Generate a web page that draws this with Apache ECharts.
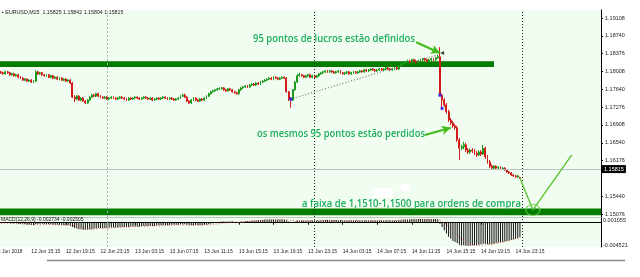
<!DOCTYPE html>
<html><head><meta charset="utf-8">
<script src="https://cdn.jsdelivr.net/npm/echarts@6/dist/echarts.min.js"></script>
<style>html,body{margin:0;padding:0;background:#fff;}#c{width:640px;height:277px;}</style>
</head><body><div id="c"></div>
<script>
// ---------- data ----------
const startTimeUTC = Date.UTC(2018, 5, 12, 11, 45); // first M15 bar
const barCount = 278;                                 // bars incl. empty right margin
const xTickIdx  = [14, 30, 46, 62, 78, 94, 110, 126, 142, 158, 174, 190, 206, 222, 238];
const xTickText = ['12 Jun 15:15','12 Jun 19:15','12 Jun 23:15','13 Jun 03:15','13 Jun 07:15','13 Jun 11:15',
  '13 Jun 15:15','13 Jun 19:15','13 Jun 23:15','14 Jun 03:15','14 Jun 07:15','14 Jun 11:15',
  '14 Jun 15:15','14 Jun 19:15','14 Jun 23:15'];
const firstDateLabel = '12 Jun 2018';
const priceTicks = [1.19108,1.18740,1.18376,1.18008,1.17640,1.17276,1.16908,1.16540,1.16176,1.15440,1.15076];
const macdTicks = [0.001055, 0, -0.004521];
const daySeparators = [49, 145, 241];
const lastPrice = 1.15815;
const header = '\u25AA EURUSD,M15  1.15825 1.15842 1.15804 1.15815';
const macdHeader = 'MACD(12,26,9) -0.002734 -0.002505';

// candles: [open, close, low, high]
const candles = [
[1.1800,1.1798,1.1796,1.1802],[1.1798,1.1796,1.1794,1.1800],[1.1796,1.1800,1.1794,1.1802],[1.1800,1.1798,1.1796,1.1802],
[1.1798,1.1794,1.1792,1.1800],[1.1794,1.1796,1.1792,1.1798],[1.1796,1.1792,1.1790,1.1798],[1.1792,1.1794,1.1790,1.1796],
[1.1794,1.1789,1.1787,1.1796],[1.1789,1.1787,1.1785,1.1791],[1.1787,1.1783,1.1781,1.1789],[1.1783,1.1785,1.1781,1.1787],
[1.1785,1.1781,1.1779,1.1787],[1.1781,1.1783,1.1779,1.1785],[1.1783,1.1779,1.1777,1.1785],[1.1779,1.1781,1.1777,1.1783],
[1.1781,1.1800,1.1779,1.1803],[1.1800,1.1796,1.1794,1.1802],[1.1796,1.1798,1.1794,1.1800],[1.1798,1.1794,1.1792,1.1800],
[1.1794,1.1792,1.1790,1.1796],[1.1792,1.1794,1.1790,1.1796],[1.1794,1.1789,1.1787,1.1796],[1.1789,1.1792,1.1787,1.1794],
[1.1792,1.1787,1.1785,1.1794],[1.1787,1.1789,1.1785,1.1791],[1.1789,1.1785,1.1783,1.1791],[1.1785,1.1787,1.1783,1.1789],
[1.1787,1.1783,1.1781,1.1789],[1.1783,1.1785,1.1781,1.1787],[1.1785,1.1781,1.1779,1.1787],[1.1781,1.1783,1.1779,1.1785],
[1.1783,1.1777,1.1775,1.1785],[1.1777,1.1748,1.1746,1.1779],[1.1748,1.1744,1.1738,1.1752],[1.1744,1.1750,1.1742,1.1752],
[1.1750,1.1742,1.1740,1.1752],[1.1742,1.1746,1.1740,1.1748],[1.1746,1.1740,1.1738,1.1748],[1.1740,1.1736,1.1734,1.1742],
[1.1736,1.1742,1.1734,1.1744],[1.1742,1.1748,1.1740,1.1750],[1.1748,1.1752,1.1746,1.1755],[1.1752,1.1750,1.1748,1.1755],
[1.1750,1.1755,1.1748,1.1757],[1.1755,1.1750,1.1748,1.1757],[1.1750,1.1748,1.1746,1.1752],[1.1748,1.1746,1.1744,1.1750],
[1.1746,1.1748,1.1744,1.1750],[1.1748,1.1744,1.1742,1.1750],[1.1744,1.1746,1.1742,1.1748],[1.1746,1.1748,1.1744,1.1750],
[1.1748,1.1746,1.1744,1.1750],[1.1746,1.1744,1.1742,1.1748],[1.1744,1.1746,1.1742,1.1748],[1.1746,1.1748,1.1744,1.1750],
[1.1748,1.1746,1.1744,1.1750],[1.1746,1.1744,1.1742,1.1748],[1.1744,1.1742,1.1740,1.1746],[1.1742,1.1746,1.1740,1.1748],
[1.1746,1.1744,1.1742,1.1748],[1.1744,1.1746,1.1742,1.1748],[1.1746,1.1748,1.1744,1.1750],[1.1748,1.1746,1.1744,1.1750],
[1.1746,1.1744,1.1742,1.1748],[1.1744,1.1746,1.1742,1.1748],[1.1746,1.1748,1.1744,1.1750],[1.1748,1.1746,1.1744,1.1750],
[1.1746,1.1744,1.1742,1.1748],[1.1744,1.1746,1.1742,1.1748],[1.1746,1.1742,1.1740,1.1748],[1.1742,1.1744,1.1740,1.1746],
[1.1744,1.1746,1.1742,1.1748],[1.1746,1.1744,1.1742,1.1748],[1.1744,1.1746,1.1742,1.1748],[1.1746,1.1748,1.1744,1.1750],
[1.1748,1.1746,1.1744,1.1750],[1.1746,1.1744,1.1742,1.1748],[1.1744,1.1746,1.1742,1.1748],[1.1746,1.1744,1.1742,1.1748],
[1.1744,1.1742,1.1740,1.1746],[1.1742,1.1744,1.1740,1.1746],[1.1744,1.1746,1.1742,1.1748],[1.1746,1.1750,1.1744,1.1752],
[1.1750,1.1752,1.1748,1.1755],[1.1752,1.1748,1.1746,1.1755],[1.1748,1.1740,1.1738,1.1750],[1.1740,1.1736,1.1734,1.1742],
[1.1736,1.1742,1.1734,1.1744],[1.1742,1.1746,1.1740,1.1748],[1.1746,1.1742,1.1740,1.1748],[1.1742,1.1740,1.1738,1.1744],
[1.1740,1.1744,1.1738,1.1746],[1.1744,1.1742,1.1740,1.1746],[1.1742,1.1746,1.1740,1.1748],[1.1746,1.1750,1.1744,1.1752],
[1.1750,1.1755,1.1748,1.1757],[1.1755,1.1759,1.1753,1.1761],[1.1759,1.1761,1.1757,1.1763],[1.1761,1.1763,1.1759,1.1765],
[1.1763,1.1765,1.1761,1.1767],[1.1765,1.1766,1.1763,1.1768],[1.1766,1.1767,1.1763,1.1769],[1.1767,1.1763,1.1761,1.1769],
[1.1763,1.1761,1.1759,1.1765],[1.1761,1.1765,1.1759,1.1767],[1.1765,1.1763,1.1761,1.1767],[1.1763,1.1759,1.1757,1.1765],
[1.1759,1.1757,1.1755,1.1761],[1.1757,1.1755,1.1753,1.1759],[1.1755,1.1763,1.1753,1.1765],[1.1763,1.1767,1.1761,1.1769],
[1.1767,1.1769,1.1765,1.1771],[1.1769,1.1771,1.1767,1.1773],[1.1771,1.1769,1.1767,1.1773],[1.1769,1.1773,1.1767,1.1775],
[1.1773,1.1775,1.1771,1.1777],[1.1775,1.1773,1.1771,1.1777],[1.1773,1.1777,1.1771,1.1779],[1.1777,1.1775,1.1773,1.1779],
[1.1775,1.1779,1.1773,1.1781],[1.1779,1.1781,1.1777,1.1783],[1.1781,1.1783,1.1779,1.1785],[1.1783,1.1785,1.1781,1.1787],
[1.1785,1.1787,1.1783,1.1789],[1.1787,1.1785,1.1783,1.1789],[1.1785,1.1789,1.1783,1.1791],[1.1789,1.1787,1.1785,1.1791],
[1.1787,1.1785,1.1783,1.1789],[1.1785,1.1787,1.1783,1.1789],[1.1787,1.1789,1.1785,1.1791],[1.1789,1.1787,1.1785,1.1791],
[1.1787,1.1759,1.1757,1.1789],[1.1759,1.1744,1.1740,1.1761],[1.1744,1.1742,1.1726,1.1748],[1.1742,1.1763,1.1740,1.1765],
[1.1763,1.1779,1.1761,1.1781],[1.1779,1.1792,1.1777,1.1796],[1.1792,1.1794,1.1790,1.1798],[1.1794,1.1792,1.1790,1.1796],
[1.1792,1.1789,1.1787,1.1794],[1.1789,1.1792,1.1787,1.1794],[1.1792,1.1794,1.1790,1.1796],[1.1794,1.1789,1.1787,1.1796],
[1.1789,1.1792,1.1787,1.1794],[1.1792,1.1789,1.1787,1.1794],[1.1789,1.1792,1.1787,1.1794],[1.1792,1.1796,1.1790,1.1798],
[1.1796,1.1798,1.1794,1.1800],[1.1798,1.1800,1.1796,1.1802],[1.1800,1.1802,1.1798,1.1804],[1.1802,1.1800,1.1798,1.1804],
[1.1800,1.1802,1.1798,1.1804],[1.1802,1.1800,1.1798,1.1804],[1.1800,1.1798,1.1796,1.1802],[1.1798,1.1800,1.1796,1.1802],
[1.1800,1.1802,1.1798,1.1804],[1.1802,1.1798,1.1796,1.1804],[1.1798,1.1796,1.1794,1.1800],[1.1796,1.1798,1.1794,1.1800],
[1.1798,1.1800,1.1796,1.1802],[1.1800,1.1796,1.1794,1.1802],[1.1796,1.1798,1.1794,1.1800],[1.1798,1.1800,1.1796,1.1802],
[1.1800,1.1798,1.1796,1.1802],[1.1798,1.1800,1.1796,1.1802],[1.1800,1.1802,1.1798,1.1804],[1.1802,1.1800,1.1798,1.1804],
[1.1800,1.1804,1.1798,1.1806],[1.1804,1.1802,1.1800,1.1806],[1.1802,1.1804,1.1800,1.1806],[1.1804,1.1806,1.1802,1.1808],
[1.1806,1.1804,1.1802,1.1808],[1.1804,1.1802,1.1800,1.1806],[1.1802,1.1804,1.1800,1.1806],[1.1804,1.1806,1.1802,1.1808],
[1.1806,1.1804,1.1802,1.1808],[1.1804,1.1806,1.1802,1.1808],[1.1806,1.1808,1.1804,1.1810],[1.1808,1.1806,1.1804,1.1810],
[1.1806,1.1804,1.1802,1.1808],[1.1804,1.1806,1.1802,1.1808],[1.1806,1.1808,1.1804,1.1810],[1.1808,1.1806,1.1804,1.1810],
[1.1806,1.1812,1.1804,1.1814],[1.1812,1.1816,1.1810,1.1818],[1.1816,1.1818,1.1814,1.1820],[1.1818,1.1820,1.1816,1.1822],
[1.1820,1.1822,1.1818,1.1825],[1.1822,1.1820,1.1818,1.1825],[1.1820,1.1825,1.1818,1.1827],[1.1825,1.1822,1.1820,1.1827],
[1.1822,1.1820,1.1818,1.1825],[1.1820,1.1822,1.1818,1.1825],[1.1822,1.1825,1.1820,1.1827],[1.1825,1.1827,1.1822,1.1829],
[1.1827,1.1825,1.1822,1.1829],[1.1825,1.1822,1.1820,1.1827],[1.1822,1.1825,1.1820,1.1827],[1.1825,1.1827,1.1822,1.1829],
[1.1827,1.1825,1.1822,1.1829],[1.1825,1.1829,1.1822,1.1831],[1.1829,1.1831,1.1827,1.1835],[1.1831,1.1752,1.1750,1.1851],
[1.1752,1.1742,1.1722,1.1755],[1.1742,1.1732,1.1728,1.1746],[1.1732,1.1718,1.1714,1.1736],[1.1718,1.1701,1.1697,1.1722],
[1.1701,1.1695,1.1691,1.1705],[1.1695,1.1689,1.1685,1.1699],[1.1689,1.1685,1.1681,1.1693],[1.1685,1.1660,1.1656,1.1689],
[1.1660,1.1643,1.1619,1.1664],[1.1643,1.1646,1.1639,1.1650],[1.1646,1.1650,1.1641,1.1656],[1.1650,1.1639,1.1635,1.1654],
[1.1639,1.1635,1.1631,1.1643],[1.1635,1.1639,1.1631,1.1643],[1.1639,1.1637,1.1633,1.1643],[1.1637,1.1633,1.1629,1.1641],
[1.1633,1.1629,1.1625,1.1637],[1.1629,1.1635,1.1627,1.1639],[1.1635,1.1631,1.1627,1.1639],[1.1631,1.1643,1.1629,1.1650],
[1.1643,1.1625,1.1621,1.1646],[1.1625,1.1615,1.1611,1.1629],[1.1615,1.1606,1.1602,1.1619],[1.1606,1.1602,1.1598,1.1610],
[1.1602,1.1606,1.1600,1.1608],[1.1606,1.1602,1.1600,1.1608],[1.1602,1.1604,1.1600,1.1606],[1.1604,1.1600,1.1598,1.1606],
[1.1600,1.1602,1.1598,1.1604],[1.1602,1.1598,1.1596,1.1604],[1.1598,1.1594,1.1592,1.1600],[1.1594,1.1592,1.1590,1.1596],
[1.1592,1.1588,1.1586,1.1594],[1.1588,1.1586,1.1584,1.1590],[1.1586,1.1584,1.1582,1.1588],[1.1584,1.1586,1.1582,1.1588],
[1.15825,1.15815,1.15804,1.15842]
];

const macdMain = [
0.0001,0.0001,0.0001,0.0000,0.0000,-0.0001,-0.0001,-0.0001,-0.0002,-0.0002,-0.0003,-0.0003,-0.0004,-0.0004,-0.0004,-0.0005,
-0.0003,-0.0003,-0.0002,-0.0002,-0.0003,-0.0003,-0.0003,-0.0003,-0.0004,-0.0004,-0.0004,-0.0004,-0.0005,-0.0005,-0.0005,-0.0005,-0.0006,
-0.0008,-0.0010,-0.0011,-0.0012,-0.0012,-0.0013,-0.0013,-0.0013,-0.0012,-0.0012,-0.0011,-0.0011,-0.0010,-0.0010,
-0.0010,-0.0010,-0.0010,-0.0009,-0.0009,-0.0009,-0.0009,-0.0009,-0.0008,-0.0008,-0.0008,-0.0008,-0.0008,-0.0007,-0.0007,-0.0007,
-0.0007,-0.0007,-0.0006,-0.0006,-0.0006,-0.0006,-0.0006,-0.0006,-0.0006,-0.0005,-0.0005,-0.0005,-0.0005,-0.0005,-0.0005,-0.0004,
-0.0004,-0.0004,-0.0004,-0.0004,-0.0003,-0.0003,-0.0003,-0.0004,-0.0005,-0.0005,-0.0005,-0.0005,-0.0005,-0.0005,-0.0005,-0.0004,-0.0004,
-0.0003,-0.0002,-0.0001,0.0000,0.0001,0.0001,0.0002,0.0002,0.0002,0.0002,0.0002,0.0002,0.0001,0.0001,0.0001,0.0002,0.0002,0.0003,
0.0003,0.0003,0.0004,0.0004,0.0004,0.0005,0.0005,0.0005,0.0006,0.0006,0.0006,0.0006,0.0006,0.0006,0.0006,0.0006,0.0006,0.0006,
0.0004,0.0002,0.0000,0.0001,0.0002,0.0004,
0.0004,0.0004,0.0004,0.0004,0.0004,0.0004,0.0004,0.0004,0.0004,0.0004,
0.0004,0.0005,0.0005,0.0005,0.0005,0.0005,0.0005,0.0005,0.0005,0.0005,
0.0004,0.0004,0.0004,0.0004,0.0004,0.0004,0.0004,0.0004,0.0004,0.0004,
0.0004,0.0004,0.0004,0.0004,0.0004,0.0004,0.0004,0.0004,0.0004,0.0004,
0.0004,0.0004,0.0004,0.0004,0.0004,0.0004,0.0005,0.0005,0.0006,0.0006,
0.0006,0.0006,0.0007,0.0007,0.0007,0.0007,0.0007,0.0007,0.0007,0.0007,
0.0007,0.0007,0.0007,0.0007,0.0007,
-0.0002,-0.0008,-0.0014,-0.0020,-0.0026,-0.0030,-0.0034,-0.0036,-0.0038,-0.0041,
-0.0042,-0.0042,-0.0043,-0.0043,-0.0043,-0.0042,-0.0042,-0.0042,-0.0041,-0.0040,
-0.0039,-0.0039,-0.0040,-0.0040,-0.0040,-0.0039,-0.0038,-0.0037,-0.0037,-0.0036,
-0.0035,-0.0034,-0.0033,-0.0032,-0.0031,-0.0030,-0.0029,-0.0027
];
const macdSignal = [
-0.0001,-0.0001,-0.0001,-0.0001,-0.0001,-0.0002,-0.0002,-0.0002,-0.0002,-0.0002,-0.0002,-0.0002,-0.0002,-0.0002,-0.0002,
-0.0003,-0.0003,-0.0003,-0.0003,-0.0003,-0.0003,-0.0003,-0.0003,-0.0003,-0.0003,-0.0004,-0.0004,-0.0004,-0.0004,-0.0004,-0.0004,-0.0004,-0.0004,
-0.0005,-0.0006,-0.0007,-0.0008,-0.0009,-0.0010,-0.0011,-0.0011,-0.0012,-0.0012,
-0.0012,-0.0012,-0.0011,-0.0011,-0.0011,-0.0010,-0.0010,-0.0010,-0.0010,-0.0009,
-0.0009,-0.0009,-0.0009,-0.0008,-0.0008,-0.0008,-0.0008,-0.0008,-0.0007,-0.0007,
-0.0007,-0.0007,-0.0007,-0.0007,-0.0006,-0.0006,-0.0006,-0.0006,-0.0006,-0.0006,
-0.0006,-0.0005,-0.0005,-0.0005,-0.0005,-0.0005,-0.0005,-0.0005,-0.0004,-0.0004,
-0.0004,-0.0004,-0.0004,-0.0004,-0.0004,-0.0004,-0.0004,-0.0004,-0.0004,-0.0004,
-0.0004,-0.0004,-0.0004,
-0.0004,-0.0004,-0.0003,-0.0003,-0.0002,-0.0002,-0.0001,-0.0001,0.0000,0.0000,
0.0001,0.0001,0.0001,0.0001,0.0001,0.0001,0.0001,0.0002,0.0002,0.0002,
0.0002,0.0003,0.0003,0.0003,0.0003,0.0004,0.0004,0.0004,0.0005,0.0005,
0.0005,0.0005,0.0005,0.0005,0.0006,0.0006,
0.0005,0.0005,0.0004,0.0004,0.0003,0.0003,
0.0003,0.0003,0.0003,0.0003,0.0003,
0.0004,0.0004,0.0004,0.0004,0.0004,0.0004,0.0004,0.0004,0.0004,0.0004,
0.0004,0.0004,0.0004,0.0004,0.0004,0.0004,0.0004,0.0004,0.0004,0.0004,
0.0004,0.0004,0.0004,0.0004,0.0004,0.0004,0.0004,0.0004,0.0004,0.0004,
0.0004,0.0004,0.0004,0.0004,0.0004,0.0004,0.0004,0.0004,0.0004,0.0004,0.0004,
0.0005,0.0005,0.0005,0.0005,0.0005,0.0005,0.0005,0.0005,0.0005,0.0005,
0.0005,0.0005,0.0005,0.0005,0.0005,0.0005,0.0005,0.0005,0.0005,
0.0004,0.0002,0.0000,-0.0003,-0.0007,-0.0011,-0.0015,-0.0019,-0.0023,-0.0027,
-0.0030,-0.0033,-0.0036,-0.0038,-0.0040,-0.0041,-0.0042,-0.0042,-0.0042,-0.0042,
-0.0041,-0.0041,-0.0040,-0.0040,-0.0040,-0.0039,-0.0039,-0.0038,-0.0037,-0.0036,
-0.0035,-0.0034,-0.0033,-0.0032,-0.0031,-0.0030,-0.0029,-0.0028
];

// drawn objects, in [bar index, price]
const resistanceZone = [1.1822, 1.1810];     // top / bottom price
const resistanceZoneEnd = 228;                // bar index where it stops
const buyZone = [1.1519, 1.1505];
const trendDots = [[134, 1.1744], [202, 1.1835]];
const scenario = [[240, 1.15815], [246, 1.1516], [264, 1.1629]];
const targetCircle = [246, 1.1516];
const tradeMarks = [[134, 1.1744], [203, 1.1752], [204, 1.1725]];
const closeMark = [[204, 1.1839]];
const arrowProfit = [[192, 1.1861], [203, 1.1839]];
const arrowLoss = [[196, 1.1670], [208, 1.1685]];
const notes = [
  {text: '95 pontos de lucros estão definidos', x: 253, y: 39, w: 162},
  {text: 'os mesmos 95 pontos estão perdidos', x: 257, y: 134, w: 168},
  {text: 'a faixa de 1,1510-1,1500 para ordens de compra', x: 302, y: 204, w: 219}
];

// ---------- chart ----------
const categories = [];
const mon = ['Jan','Feb','Mar','Apr','May','Jun','Jul','Aug','Sep','Oct','Nov','Dec'];
for (let i = 0; i < barCount; i++) {
  const d = new Date(startTimeUTC + i * 900000);
  const p = n => (n < 10 ? '0' : '') + n;
  categories.push(d.getUTCDate() + ' ' + mon[d.getUTCMonth()] + ' ' + p(d.getUTCHours()) + ':' + p(d.getUTCMinutes()));
}
const tickSet = new Set(xTickIdx);
const bg = '#f0fdf0';
const up = '#1c9a1c', down = '#d21c1c';
const annGreen = '#1eae5e';
const noteFont = '600 11px "Open Sans", "Noto Sans", sans-serif';
const mctx = document.createElement('canvas').getContext('2d');
mctx.font = noteFont;
const axisFont = 'Liberation Sans, Arial, sans-serif';

const chart = echarts.init(document.getElementById('c'), null, {renderer: 'canvas'});
const option = {
  animation: false,
  backgroundColor: '#ffffff',
  grid: [
    {left: 0, right: 39, top: 10, height: 207, show: true, backgroundColor: bg, borderWidth: 0},
    {left: 0, right: 39, top: 217, height: 30, show: true, backgroundColor: bg, borderWidth: 0}
  ],
  xAxis: [
    {type: 'category', gridIndex: 0, data: categories,
     axisLine: {show: true, lineStyle: {color: '#b9c9b9', width: 1}}, axisTick: {show: false}, axisLabel: {show: false}, splitLine: {show: false}},
    {type: 'category', gridIndex: 1, data: categories,
     axisLine: {show: true, lineStyle: {color: '#000', width: 1}},
     axisTick: {show: true, alignWithLabel: true, length: 2, interval: i => tickSet.has(i), lineStyle: {color: '#000'}},
     axisLabel: {show: true, interval: i => tickSet.has(i), align: 'left', margin: 2, fontSize: 5,
       fontFamily: axisFont, color: '#222',
       formatter: (v, i) => { const k = xTickIdx.indexOf(i); return k >= 0 ? xTickText[k] : ''; }},
     splitLine: {show: false}}
  ],
  yAxis: [
    {type: 'value', gridIndex: 0, position: 'right', min: 1.15014, max: 1.19273, scale: true,
     axisLine: {show: true, lineStyle: {color: '#000'}},
     axisTick: {show: true, length: 2, customValues: priceTicks, lineStyle: {color: '#000'}},
     axisLabel: {show: true, customValues: priceTicks, margin: 4, fontSize: 5.5, color: '#222', hideOverlap: false,
       fontFamily: axisFont, formatter: v => v.toFixed(5)},
     splitLine: {show: false}},
    {type: 'value', gridIndex: 1, position: 'right', min: -0.004521, max: 0.001055,
     axisLine: {show: true, lineStyle: {color: '#000'}},
     axisTick: {show: false},
     axisLabel: {show: true, customValues: macdTicks, margin: 2, fontSize: 5.5, color: '#222',
       hideOverlap: false, showMinLabel: true, showMaxLabel: true,
       fontFamily: axisFont,
       formatter: v => v > 0 ? '{t|' + v.toFixed(6) + '}' : (v < 0 ? '{b|' + v.toFixed(6) + '}' : '0.00'),
       rich: {t: {fontSize: 5.5, fontFamily: axisFont, color: '#222', padding: [6, 0, 0, 0]},
              b: {fontSize: 5.5, fontFamily: axisFont, color: '#222', padding: [0, 0, 4, 0]}}},
     splitLine: {show: false}}
  ],
  series: [
    {type: 'candlestick', name: 'EURUSD', xAxisIndex: 0, yAxisIndex: 0, data: candles, z: 3,
     barWidth: 1.4,
     itemStyle: {color: up, color0: down, borderColor: up, borderColor0: down, borderWidth: 1},
     markArea: {silent: true, label: {show: false}, itemStyle: {color: '#007c00'},
       data: [
         [{yAxis: resistanceZone[0]}, {xAxis: resistanceZoneEnd, yAxis: resistanceZone[1]}],
         [{yAxis: buyZone[0]}, {yAxis: buyZone[1]}]
       ]},
     markLine: {silent: true, symbol: 'none', label: {show: false},
       data: [
         {yAxis: lastPrice, lineStyle: {color: '#b6c6c6', width: 1, type: 'solid'},
          label: {show: true, position: 'end', distance: 1, formatter: lastPrice.toFixed(5), backgroundColor: '#000',
            color: '#fff', fontSize: 5.5, padding: [1, 2, 1, 2], fontFamily: axisFont}},
         {xAxis: daySeparators[0], lineStyle: {color: '#a8b0a8', width: 1, type: [2, 2]}},
         {xAxis: daySeparators[1], lineStyle: {color: '#222', width: 1, type: [1, 2]}},
         {xAxis: daySeparators[2], lineStyle: {color: '#222', width: 1, type: [1, 2]}}
       ]}},
    {type: 'line', name: 'trade', xAxisIndex: 0, yAxisIndex: 0, data: trendDots, symbol: 'none', z: 4,
     lineStyle: {color: '#556655', width: 1, type: [1, 2]}},
    {type: 'scatter', name: 'orders', xAxisIndex: 0, yAxisIndex: 0, data: tradeMarks, symbol: 'rect', symbolSize: 3, z: 5,
     itemStyle: {color: '#1a1aff'}},
    {type: 'scatter', name: 'close', xAxisIndex: 0, yAxisIndex: 0, data: closeMark, symbol: 'triangle', symbolRotate: 90, symbolSize: 4, z: 5,
     itemStyle: {color: '#111'}},
    {type: 'line', name: 'scenario', xAxisIndex: 0, yAxisIndex: 0, data: scenario, symbol: 'none', z: 6,
     lineStyle: {color: '#55c22a', width: 1.3},
     markLine: {silent: true, symbol: ['none', 'arrow'], symbolSize: [7, 9], label: {show: false},
       lineStyle: {color: '#44bb1c', width: 2.2, type: 'solid'},
       data: [
         [{coord: arrowProfit[0]}, {coord: arrowProfit[1]}],
         [{coord: arrowLoss[0]}, {coord: arrowLoss[1]}]
       ]}},
    {type: 'scatter', name: 'target', xAxisIndex: 0, yAxisIndex: 0, data: [targetCircle], symbol: 'circle', symbolSize: [14, 11], z: 6,
     itemStyle: {color: 'rgba(0,0,0,0)', borderColor: '#66cc44', borderWidth: 1.2}},
    {type: 'bar', name: 'MACD', xAxisIndex: 1, yAxisIndex: 1, data: macdMain, barWidth: 1, z: 3,
     itemStyle: {color: '#111'},
     markLine: {silent: true, symbol: 'none', label: {show: false},
       data: [
         {xAxis: daySeparators[0], lineStyle: {color: '#a8b0a8', width: 1, type: [2, 2]}},
         {xAxis: daySeparators[1], lineStyle: {color: '#222', width: 1, type: [1, 2]}},
         {xAxis: daySeparators[2], lineStyle: {color: '#222', width: 1, type: [1, 2]}}
       ]}},
    {type: 'line', name: 'Signal', xAxisIndex: 1, yAxisIndex: 1, data: macdSignal, symbol: 'none', z: 4,
     lineStyle: {color: '#e05050', width: 1, type: [1, 2]}}
  ],
  graphic: [
    {type: 'text', x: 2, y: 13, z: 20, style: {text: header, font: '5.3px "Liberation Sans", Arial, sans-serif', fill: '#222', verticalAlign: 'middle'}},
    {type: 'text', x: -5, y: 252, z: 20, style: {text: firstDateLabel, font: '5px "Liberation Sans", Arial, sans-serif', fill: '#222', verticalAlign: 'middle'}},
    {type: 'text', x: 1, y: 220, z: 20, style: {text: macdHeader, font: '5px "Liberation Sans", Arial, sans-serif', fill: '#111', verticalAlign: 'middle'}},
    {type: 'rect', z: 20, shape: {x: 373, y: 188, width: 20, height: 10}, style: {fill: '#ffffff'}},
    {type: 'rect', z: 20, shape: {x: 401, y: 184, width: 9, height: 7}, style: {fill: '#ffffff'}},
    {type: 'line', z: 20, shape: {x1: 47, y1: 260.5, x2: 625, y2: 260.5}, style: {stroke: '#8a8a8a', lineWidth: 1.5}}
  ].concat(notes.map(n => ({
    type: 'text', x: n.x, y: n.y, z: 30, scaleX: n.w / mctx.measureText(n.text).width,
    style: {text: n.text, font: noteFont, fill: annGreen, verticalAlign: 'middle'}
  })))
};
chart.setOption(option);
</script></body></html>
